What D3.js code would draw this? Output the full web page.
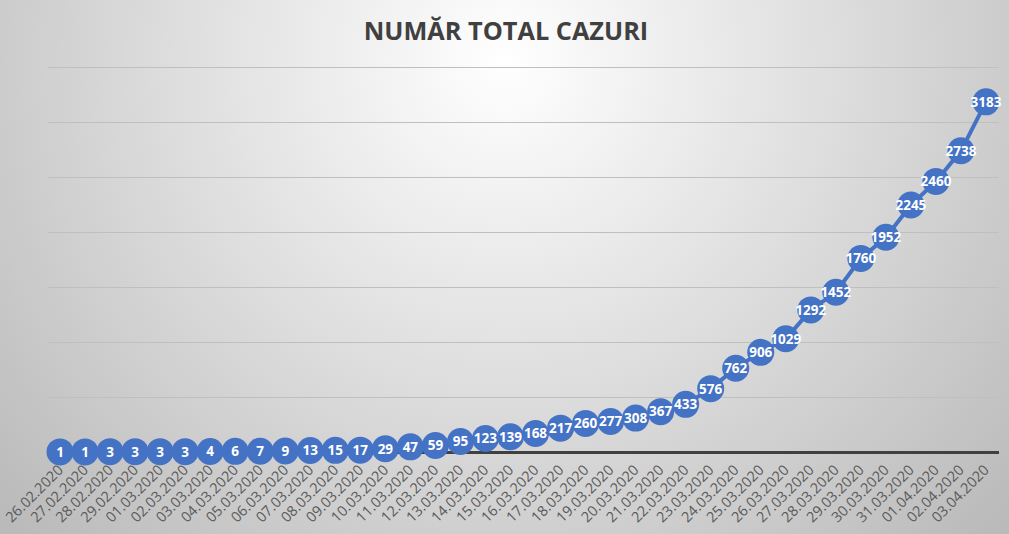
<!DOCTYPE html>
<html>
<head>
<meta charset="utf-8">
<script src="https://cdn.jsdelivr.net/npm/d3@7"></script>
<style>
html,body{margin:0;padding:0;overflow:hidden;}
svg{display:block;}
</style>
</head>
<body>
<svg id="chart" width="1009" height="534"></svg>
<script>
const title = "NUMĂR TOTAL CAZURI";
const dates = ["26.02.2020","27.02.2020","28.02.2020","29.02.2020","01.03.2020","02.03.2020","03.03.2020","04.03.2020","05.03.2020","06.03.2020","07.03.2020","08.03.2020","09.03.2020","10.03.2020","11.03.2020","12.03.2020","13.03.2020","14.03.2020","15.03.2020","16.03.2020","17.03.2020","18.03.2020","19.03.2020","20.03.2020","21.03.2020","22.03.2020","23.03.2020","24.03.2020","25.03.2020","26.03.2020","27.03.2020","28.03.2020","29.03.2020","30.03.2020","31.03.2020","01.04.2020","02.04.2020","03.04.2020"];
const cases = [1,1,3,3,3,3,4,6,7,9,13,15,17,29,47,59,95,123,139,168,217,260,277,308,367,433,576,762,906,1029,1292,1452,1760,1952,2245,2460,2738,3183];
const yTicks = [0,500,1000,1500,2000,2500,3000,3500];

(function(){
const W = 1009, H = 534;
const svg = d3.select("#chart");
const defs = svg.append("defs");
const grad = defs.append("radialGradient").attr("id","bg")
  .attr("gradientUnits","userSpaceOnUse")
  .attr("cx",505).attr("cy",60).attr("r",680);
grad.append("stop").attr("offset","0%").attr("stop-color","#ffffff");
grad.append("stop").attr("offset","100%").attr("stop-color","#bababa");
svg.append("rect").attr("width",W).attr("height",H).attr("fill","url(#bg)");

const mL = 47.5, mR = 998.5, mT = 67, mB = 452;
const x = d3.scaleBand().domain(dates).range([mL,mR]);
const y = d3.scaleLinear().domain([0,3500]).range([mB,mT]);

// gridlines
const gAxisY = svg.append("g").attr("transform",`translate(${mL},0)`)
  .call(d3.axisLeft(y).tickValues(yTicks).tickSize(-(mR-mL)).tickFormat(""));
gAxisY.select(".domain").remove();
gAxisY.selectAll(".tick line").attr("stroke","#bfbfbf").attr("stroke-width",1);

// x axis
const gX = svg.append("g").attr("transform",`translate(0,${mB})`)
  .call(d3.axisBottom(x).tickSize(0).tickPadding(0));
gX.select(".domain").attr("stroke","#404040").attr("stroke-width",3);
gX.selectAll(".tick text")
  .attr("font-family","'Open Sans', sans-serif")
  .attr("font-size","14.5px")
  .attr("fill","#595959")
  .attr("text-anchor","end")
  .attr("dy",null)
  .attr("y",0)
  .attr("transform","translate(4,19) rotate(-45)");

// line
const cx = d => x(d) + x.bandwidth()/2;
const pts = dates.map((d,i)=>({d, v:cases[i]}));
svg.append("path").datum(pts)
  .attr("fill","none").attr("stroke","#4472C4").attr("stroke-width",4)
  .attr("d", d3.line().x(p=>cx(p.d)).y(p=>y(p.v)));

svg.append("g").selectAll("circle").data(pts).join("circle")
  .attr("cx",p=>cx(p.d)).attr("cy",p=>y(p.v)).attr("r",13.5)
  .attr("fill","#4472C4");

svg.append("g").selectAll("text").data(pts).join("text")
  .attr("x",p=>cx(p.d)).attr("y",p=>y(p.v))
  .attr("dy","0.36em")
  .attr("text-anchor","middle")
  .attr("font-family","'Open Sans', sans-serif")
  .attr("font-weight","bold")
  .attr("font-size","13.5px")
  .attr("fill","#ffffff")
  .text(p=>p.v);

svg.append("text").attr("x",506).attr("y",40)
  .attr("text-anchor","middle")
  .attr("font-family","'Open Sans', sans-serif")
  .attr("font-weight","bold")
  .attr("font-size","25.3px")
  .attr("fill","#404040")
  .text(title);
})();
</script>
</body>
</html>
